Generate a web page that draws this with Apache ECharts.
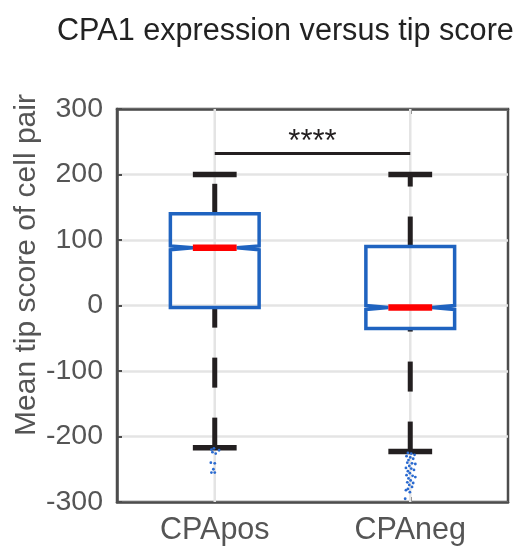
<!DOCTYPE html>
<html>
<head>
<meta charset="utf-8">
<script src="https://cdn.jsdelivr.net/npm/echarts@6/dist/echarts.min.js"></script>
<style>
  html, body { margin: 0; padding: 0; background: #fff; }
  #chart { width: 518px; height: 549px; }
</style>
</head>
<body>
<div id="chart"></div>
<script>
// box statistics
const categories = ['CPApos', 'CPAneg']
const whiskerLow = [-217, -223]
const q1 = [-3, -35]
const median = [88, -3]
const q3 = [140, 90]
const whiskerHigh = [200, 200]
const notchLow = [85, -6]
const notchHigh = [91, 0]

// outliers: [category index, horizontal jitter (category units), value]
const outliers = [
  [0, -0.017, -220], [0, -0.004, -218], [0, 0.022, -221], [0, -0.012, -224],
  [0, 0.005, -226], [0, -0.020, -240], [0, 0.000, -241], [0, -0.007, -250],
  [0, -0.017, -255], [0, 0.000, -255],
  [1, -0.012, -225], [1, 0.005, -226], [1, 0.022, -228], [1, -0.019, -230],
  [1, 0.000, -232], [1, 0.015, -234], [1, -0.009, -236], [1, -0.015, -240],
  [1, 0.009, -241], [1, 0.026, -242], [1, -0.005, -245], [1, -0.022, -248],
  [1, 0.005, -249], [1, 0.019, -251], [1, -0.012, -253], [1, -0.002, -256],
  [1, -0.019, -259], [1, 0.012, -260], [1, 0.026, -262], [1, -0.009, -264],
  [1, 0.002, -267], [1, -0.015, -270], [1, 0.015, -271], [1, -0.005, -274],
  [1, 0.009, -277], [1, -0.012, -280], [1, -0.022, -282], [1, -0.002, -285],
  [1, -0.026, -295]
]

// y axis ticks
const yMin = -300
const yMax = 300
const yStep = 100

// significance bracket
const sigPair = [0, 1]
const sigLevel = 232
const sigLabel = '****'

const FONT = '"Liberation Sans", Arial, sans-serif'
const AXIS = '#4d4d4d'

const chart = echarts.init(document.getElementById('chart'))

const boxData = categories.map((c, i) => [
  i, whiskerLow[i], q1[i], median[i], q3[i], whiskerHigh[i], notchLow[i], notchHigh[i]
])

function renderBox(params, api) {
  const i = api.value(0)
  const band = api.size([1, 0])[0]
  const cx = api.coord([i, 0])[0]
  const y = v => api.coord([i, v])[1]
  const half = band * 0.227
  const mhalf = band * 0.112
  const lo = y(api.value(1)), b1 = y(api.value(2)), med = y(api.value(3))
  const b3 = y(api.value(4)), hi = y(api.value(5))
  const nLo = y(api.value(6)), nHi = y(api.value(7))
  const whisker = { stroke: '#231f20', lineWidth: 5, lineDash: [30, 30], lineCap: 'butt' }
  const cap = { stroke: '#231f20', lineWidth: 5.5 }
  return {
    type: 'group',
    children: [
      // vertical grid line at the category
      { type: 'line', shape: { x1: cx, y1: y(yMin), x2: cx, y2: y(yMax) },
        style: { stroke: '#e4e4e4', lineWidth: 2.5 } },
      { type: 'line', shape: { x1: cx, y1: b3, x2: cx, y2: hi }, style: whisker },
      { type: 'line', shape: { x1: cx, y1: lo, x2: cx, y2: b1 }, style: whisker },
      { type: 'line', shape: { x1: cx - mhalf, y1: hi, x2: cx + mhalf, y2: hi }, style: cap },
      { type: 'line', shape: { x1: cx - mhalf, y1: lo, x2: cx + mhalf, y2: lo }, style: cap },
      {
        type: 'polygon',
        shape: {
          points: [
            [cx - half, b3], [cx + half, b3], [cx + half, nHi], [cx + mhalf, med],
            [cx + half, nLo], [cx + half, b1], [cx - half, b1], [cx - half, nLo],
            [cx - mhalf, med], [cx - half, nHi]
          ]
        },
        style: { fill: 'none', stroke: '#1f63c0', lineWidth: 3.5, lineJoin: 'miter' }
      },
      { type: 'line', shape: { x1: cx - mhalf, y1: med, x2: cx + mhalf, y2: med },
        style: { stroke: '#ff0000', lineWidth: 6.5 } }
    ]
  }
}

function renderOutlier(params, api) {
  const band = api.size([1, 0])[0]
  const p = api.coord([api.value(0), api.value(2)])
  return {
    type: 'circle',
    shape: { cx: p[0] + api.value(1) * band, cy: p[1], r: 1.4 },
    style: { fill: '#2a6ad0' }
  }
}

function renderBracket(params, api) {
  const a = api.coord([api.value(0), api.value(2)])
  const b = api.coord([api.value(1), api.value(2)])
  return {
    type: 'group',
    children: [
      { type: 'line', shape: { x1: a[0], y1: a[1], x2: b[0], y2: b[1] },
        style: { stroke: '#231f20', lineWidth: 3 } },
      { type: 'text', x: (a[0] + b[0]) / 2, y: a[1] + 4,
        style: { text: sigLabel, font: '31px ' + FONT, fill: '#231f20',
          align: 'center', verticalAlign: 'bottom' } }
    ]
  }
}

const axisCommon = {
  axisLine: { show: true, onZero: false, lineStyle: { color: AXIS, width: 2.5 } },
  axisTick: { show: true, inside: true, length: 5, lineStyle: { color: AXIS, width: 2 } }
}

const option = {
  animation: false,
  title: {
    text: 'CPA1 expression versus tip score',
    left: 52,
    top: 11,
    textStyle: { fontSize: 30.6, fontWeight: 'normal', color: '#222', fontFamily: FONT }
  },
  grid: { left: 117, right: 10, top: 109, bottom: 47, show: true, borderColor: AXIS, borderWidth: 2.5 },
  xAxis: [
    {
      type: 'category',
      data: categories,
      ...axisCommon,
      axisTick: { ...axisCommon.axisTick, alignWithLabel: true },
      axisLabel: { color: '#555', fontSize: 30.5, fontFamily: FONT, margin: 13, interval: 0 },
      splitLine: { show: false }
    },
    {
      type: 'category',
      position: 'top',
      data: categories,
      ...axisCommon,
      axisTick: { ...axisCommon.axisTick, alignWithLabel: true },
      axisLabel: { show: false },
      splitLine: { show: false }
    }
  ],
  yAxis: {
    type: 'value',
    min: yMin,
    max: yMax,
    interval: yStep,
    ...axisCommon,
    axisLabel: { color: '#555', fontSize: 28.5, fontFamily: FONT, margin: 14 },
    splitLine: { show: true, lineStyle: { color: '#e4e4e4', width: 2.5 } }
  },
  graphic: [
    {
      type: 'text',
      x: 27,
      y: 265,
      rotation: Math.PI / 2,
      style: {
        text: 'Mean tip score of cell pair',
        font: '30px ' + FONT,
        fill: '#555',
        align: 'center',
        verticalAlign: 'middle'
      }
    }
  ],
  series: [
    {
      type: 'custom',
      renderItem: renderBox,
      encode: { x: 0, y: [1, 2, 3, 4, 5, 6, 7] },
      data: boxData,
      z: 2
    },
    {
      type: 'custom',
      renderItem: renderOutlier,
      encode: { x: 0, y: 2 },
      data: outliers,
      z: 3
    },
    {
      type: 'custom',
      renderItem: renderBracket,
      encode: { x: [0, 1], y: 2 },
      data: [[sigPair[0], sigPair[1], sigLevel]],
      z: 3
    }
  ]
}

chart.setOption(option)
</script>
</body>
</html>
